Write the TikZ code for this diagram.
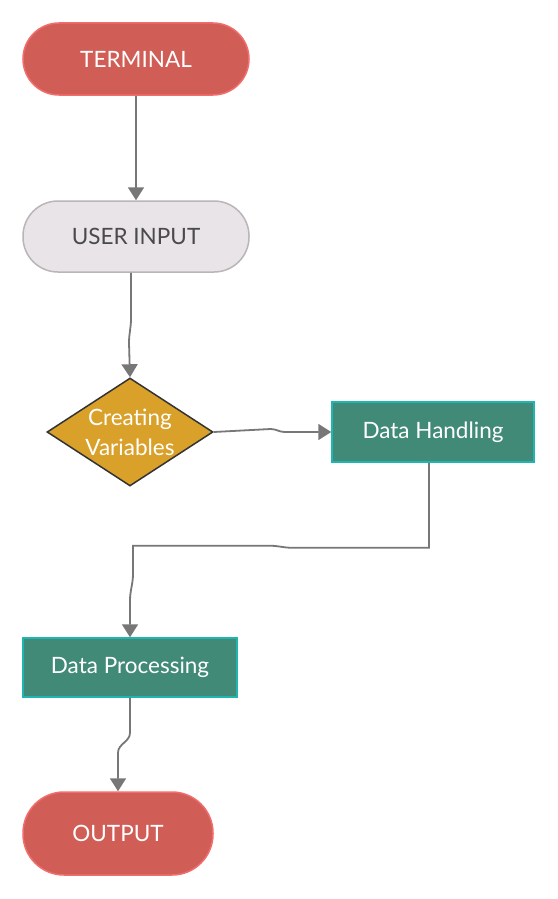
\documentclass[tikz,border=0pt]{standalone}
\usepackage{fontspec}
\setmainfont{Lato}
\usetikzlibrary{shapes.geometric,arrows.meta}
\definecolor{termfill}{HTML}{D05E57}
\definecolor{termdraw}{HTML}{F26D6D}
\definecolor{uifill}{HTML}{E8E4E8}
\definecolor{uidraw}{HTML}{B9B5B9}
\definecolor{uitext}{HTML}{4A4A4A}
\definecolor{dmfill}{HTML}{D9A02A}
\definecolor{dmdraw}{HTML}{333333}
\definecolor{grfill}{HTML}{428A78}
\definecolor{grdraw}{HTML}{1FB5B0}
\definecolor{conn}{HTML}{777777}
\tikzset{
  basebox/.style={inner sep=0pt, line width=1.5pt, font=\fontsize{22.5}{27}\selectfont},
  termbox/.style={basebox, rectangle, fill=termfill, draw=termdraw, text=white},
  uibox/.style={basebox, rectangle, fill=uifill, draw=uidraw, text=uitext},
  decbox/.style={basebox, diamond, fill=dmfill, draw=dmdraw, text=white},
  procbox/.style={basebox, rectangle, fill=grfill, draw=grdraw, text=white},
  flow/.style={draw=conn, line width=1.8pt, -{Triangle[width=16pt,length=13pt]}},
  plainflow/.style={draw=conn, line width=1.8pt}
}
\begin{document}
\begin{tikzpicture}[x=1pt,y=-1pt]
\useasboundingbox[fill=white] (0,0) rectangle (557,899);
\node[termbox, minimum width=226pt, minimum height=72pt, rounded corners=36pt] (term) at (136,59) {TERMINAL};
\node[uibox, minimum width=226pt, minimum height=71pt, rounded corners=35pt] (ui) at (136,236.5) {USER INPUT};
\node[decbox, minimum width=166pt, minimum height=108pt,
      label={[align=center, text=white, font=\fontsize{22.5}{30}\selectfont]center:Creating\\Variables}] (cv) at (130,432) {};
\node[procbox, minimum width=202pt, minimum height=60pt] (dh) at (433,432) {Data Handling};
\node[procbox, minimum width=214pt, minimum height=59pt] (dp) at (130,667.5) {Data Processing};
\node[termbox, minimum width=190pt, minimum height=83pt, rounded corners=41pt] (out) at (118,833.5) {OUTPUT};

\draw[flow] (term.south) -- (ui.north);
\draw[flow] ([xshift=-5pt]ui.south) -- ++(0,46) to[out=-90,in=90] ++(-2,24) -- (cv.north);
\draw[flow] (cv.east) -- ++(57,-3) to[out=0,in=180] ++(14,3) -- (dh.west);
\draw[flow] ([xshift=-4pt]dh.south) -- ++(0,85) -- ++(-137,0) to[out=180,in=0] ++(-22,-2)
   -- ++(-137,0) -- ++(0,28) to[out=-90,in=90] ++(-3,27) -- (dp.north);
\draw[flow] (dp.south) -- ++(0,35) to[out=-90,in=90] ++(-12,20) -- (out.north);
\end{tikzpicture}
\end{document}
